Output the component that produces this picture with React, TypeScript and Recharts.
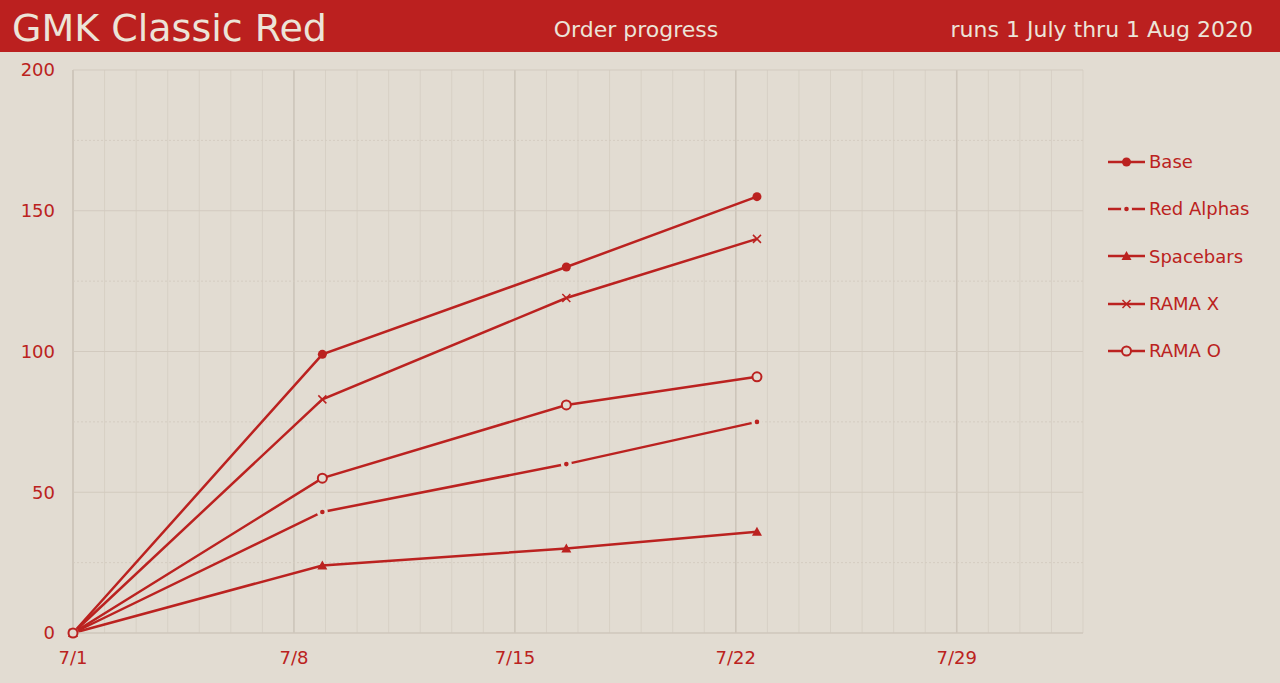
import React from 'react';
import { LineChart, Line, XAxis, YAxis, ReferenceLine } from 'recharts';

// days since 7/1 for each snapshot
const days = [0, 7.9, 15.63, 21.67];
const base = [0, 99, 130, 155];
const redAlphas = [0, 43, 60, 75];
const spacebars = [0, 24, 30, 36];
const ramaX = [0, 83, 119, 140];
const ramaO = [0, 55, 81, 91];

const xTicks = [0, 7, 14, 21, 28];
const yTicks = [0, 50, 100, 150, 200];
const minorY = [25, 75, 125, 175];
const dayLines = Array.from({ length: 33 }, (_, i) => i);

const RED = '#bb2220';
const BG = '#e2dcd2';
const FONT = '"DejaVu Sans", sans-serif';

const data = days.map((d, i) => ({
  day: d,
  base: base[i],
  redAlphas: redAlphas[i],
  spacebars: spacebars[i],
  ramaX: ramaX[i],
  ramaO: ramaO[i],
}));

type Shape = 'dot' | 'small' | 'tri' | 'x' | 'ring';

function Marker({ shape, cx, cy }: { shape: Shape; cx: number; cy: number }) {
  switch (shape) {
    case 'dot':
      return <circle cx={cx} cy={cy} r={4.5} fill={RED} />;
    case 'small':
      return (
        <g>
          <circle cx={cx} cy={cy} r={5.5} fill={BG} />
          <circle cx={cx} cy={cy} r={2.3} fill={RED} />
        </g>
      );
    case 'tri':
      return <path d={`M${cx},${cy - 5} L${cx + 5},${cy + 4} L${cx - 5},${cy + 4} Z`} fill={RED} />;
    case 'x':
      return (
        <path
          d={`M${cx - 4},${cy - 4} L${cx + 4},${cy + 4} M${cx - 4},${cy + 4} L${cx + 4},${cy - 4}`}
          stroke={RED}
          strokeWidth={1.5}
        />
      );
    case 'ring':
      return <circle cx={cx} cy={cy} r={4.5} fill={BG} stroke={RED} strokeWidth={2} />;
  }
}

const series: { key: string; name: string; shape: Shape }[] = [
  { key: 'base', name: 'Base', shape: 'dot' },
  { key: 'redAlphas', name: 'Red Alphas', shape: 'small' },
  { key: 'spacebars', name: 'Spacebars', shape: 'tri' },
  { key: 'ramaX', name: 'RAMA X', shape: 'x' },
  { key: 'ramaO', name: 'RAMA O', shape: 'ring' },
];

function ChartLegend() {
  return (
    <div style={{ position: 'absolute', left: 1107, top: 138, width: 173 }}>
      {series.map((s) => (
        <div key={s.key} style={{ display: 'flex', alignItems: 'center', height: 47.3 }}>
          <svg width={40} height={14}>
            <line x1={1} y1={7} x2={38} y2={7} stroke={RED} strokeWidth={2.5} />
            <Marker shape={s.shape} cx={19.5} cy={7} />
          </svg>
          <span style={{ color: RED, fontSize: 18, fontFamily: FONT, marginLeft: 2 }}>{s.name}</span>
        </div>
      ))}
    </div>
  );
}

export default function App() {
  return (
    <div style={{ position: 'absolute', left: 0, top: 0, width: 1280, height: 683, background: BG, fontFamily: FONT }}>
      <div
        style={{
          position: 'absolute',
          left: 0,
          top: 0,
          width: 1280,
          height: 52,
          background: '#bb201f',
          color: '#ece4d8',
        }}
      >
        <div style={{ position: 'absolute', left: 12, top: 6, fontSize: 38, lineHeight: '44px' }}>GMK Classic Red</div>
        <div style={{ position: 'absolute', left: 0, width: 1272, top: 16, fontSize: 22, lineHeight: '28px', textAlign: 'center' }}>
          Order progress
        </div>
        <div style={{ position: 'absolute', right: 27, top: 16, fontSize: 22, lineHeight: '28px' }}>
          runs 1 July thru 1 Aug 2020
        </div>
      </div>
      <div style={{ position: 'absolute', left: 0, top: 0 }}>
        <LineChart width={1280} height={683} data={data} margin={{ top: 70, right: 197, bottom: 0, left: 0 }}>
          {dayLines.map((d) => (
            <ReferenceLine
              key={'v' + d}
              x={d}
              stroke={d % 7 === 0 ? '#cdc5ba' : '#d7d0c5'}
              strokeWidth={d % 7 === 0 ? 1.6 : 1}
            />
          ))}
          {minorY.map((v) => (
            <ReferenceLine key={'m' + v} y={v} stroke="#d4ccc1" strokeDasharray="2 2" />
          ))}
          {yTicks.map((v) => (
            <ReferenceLine key={'h' + v} y={v} stroke="#d2cabf" />
          ))}
          <XAxis
            dataKey="day"
            type="number"
            domain={[0, 32]}
            ticks={xTicks}
            tickFormatter={(d) => `7/${d + 1}`}
            height={50}
            tickSize={0}
            tickMargin={18}
            axisLine={{ stroke: '#cdc5ba' }}
            tick={{ fill: RED, fontSize: 18, fontFamily: FONT }}
          />
          <YAxis
            type="number"
            domain={[0, 200]}
            ticks={yTicks}
            width={73}
            tickSize={0}
            tickMargin={18}
            axisLine={{ stroke: '#cdc5ba' }}
            tick={{ fill: RED, fontSize: 18, fontFamily: FONT }}
          />
          {series.map((s) => (
            <Line
              key={s.key}
              dataKey={s.key}
              name={s.name}
              type="linear"
              stroke={RED}
              strokeWidth={2.5}
              isAnimationActive={false}
              dot={(p: any) => <Marker key={s.key + p.index} shape={s.shape} cx={p.cx} cy={p.cy} />}
              activeDot={false}
            />
          ))}
        </LineChart>
      </div>
      <ChartLegend />
    </div>
  );
}
